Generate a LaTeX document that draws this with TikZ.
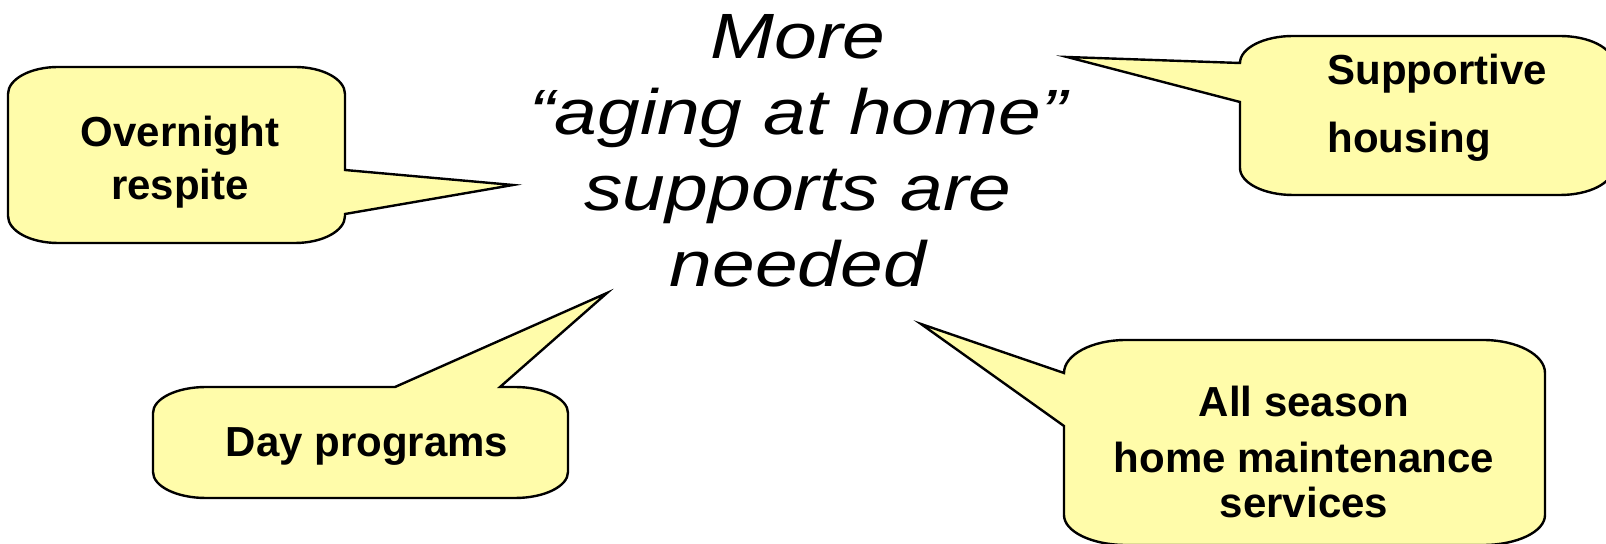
\documentclass[tikz,border=0pt]{standalone}
\usepackage{fontspec}
\setmainfont{Liberation Sans}
\newfontfamily\bigitfont{Liberation Sans Italic}[FakeStretch=1.2]
\definecolor{bubblefill}{RGB}{255,252,170}

\begin{document}
\begin{tikzpicture}[x=0.5pt, y=-0.5pt,
    bubble/.style={draw=black, line width=1.2pt, fill=bubblefill},
    bubbletext/.style={font=\bfseries\fontsize{21}{#1}\selectfont, align=center, anchor=base, inner sep=0pt},
    bubbletext/.default=26.5]
    \useasboundingbox (0,0) rectangle (1606,544);

    % Pointer tips, all aimed at the middle text
    \coordinate (tipA) at (513,185);
    \coordinate (tipB) at (1067,57);
    \coordinate (tipC) at (607,293);
    \coordinate (tipD) at (921,324);

    % Overnight respite (pointer on the right)
    \draw[bubble] (8,94) .. controls (8,79.1) and (30.4,67) .. (58,67)
        -- (295,67) .. controls (322.6,67) and (345,79.1) .. (345,94)
        -- (345,170) -- (tipA) -- (345,214)
        -- (345,216) .. controls (345,230.9) and (322.6,243) .. (295,243)
        -- (58,243) .. controls (30.4,243) and (8,230.9) .. (8,216) -- cycle;

    % Supportive housing (runs off the right edge)
    \draw[bubble] (1240,63) .. controls (1240,48.1) and (1263.7,36) .. (1293,36)
        -- (1560,36) .. controls (1589.3,36) and (1613,48.1) .. (1613,63)
        -- (1613,168) .. controls (1613,182.9) and (1589.3,195) .. (1560,195)
        -- (1293,195) .. controls (1263.7,195) and (1240,182.9) .. (1240,168)
        -- (1240,102) -- (tipB) -- cycle;

    % Day programs (pointer on the top)
    \draw[bubble] (153,413) .. controls (153,398.6) and (176.7,387) .. (206,387)
        -- (395,387) -- (tipC) -- (500,387)
        -- (515,387) .. controls (544.3,387) and (568,398.6) .. (568,413)
        -- (568,472) .. controls (568,486.4) and (544.3,498) .. (515,498)
        -- (206,498) .. controls (176.7,498) and (153,486.4) .. (153,472) -- cycle;

    % All season home maintenance (pointer on the left)
    \draw[bubble] (1064,373) .. controls (1064,354.8) and (1091.8,340) .. (1126,340)
        -- (1483,340) .. controls (1517.2,340) and (1545,354.8) .. (1545,373)
        -- (1545,515) .. controls (1545,531.6) and (1517.2,545) .. (1483,545)
        -- (1126,545) .. controls (1091.8,545) and (1064,531.6) .. (1064,515)
        -- (1064,426) -- (tipD) -- cycle;

    % texts (base = baseline of the last line)
    \node[align=center, anchor=base, inner sep=0pt,
          font=\bigitfont\fontsize{32}{38}\selectfont] (aging) at (798,287)
        {More\\“aging at home”\\supports are\\needed};
    \node[bubbletext] (respite) at (180,200) {Overnight\\respite};
    \node[bubbletext=34, align=left, anchor=base west] (housing) at (1327,153) {Supportive\\housing};
    \node[bubbletext] (dayprog) at (367,457) {Day programs};
    \node[bubbletext=28] (maint) at (1304,518) {All season\\home maintenance\\[-5.5pt]services};
\end{tikzpicture}
\end{document}
